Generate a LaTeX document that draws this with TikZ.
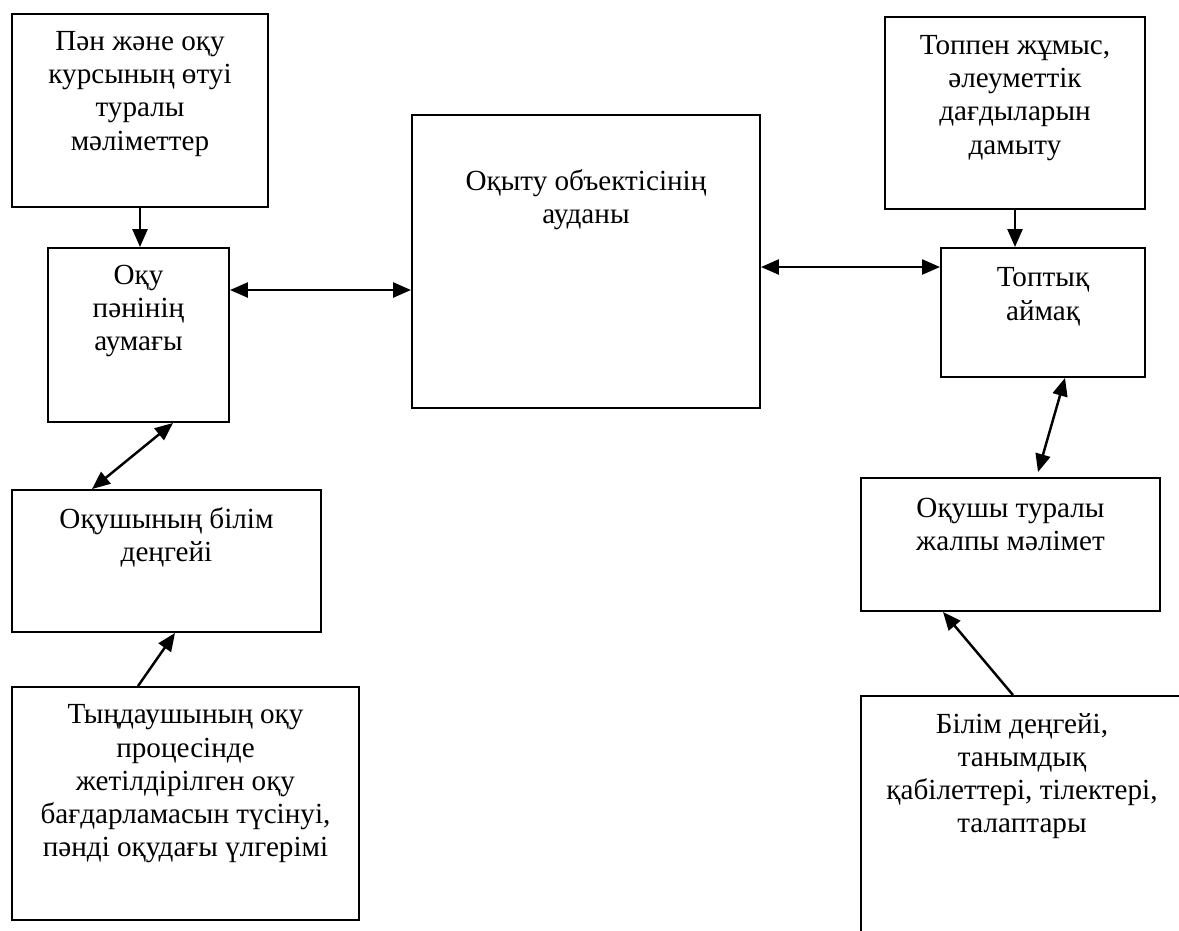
\documentclass[tikz,border=0pt]{standalone}
\usepackage{fontspec}
\setmainfont{Liberation Serif}
\usetikzlibrary{arrows.meta,fit}
\begin{document}
\begin{tikzpicture}[x=0.02cm,y=-0.02cm,
  box/.style={draw, line width=1.1pt, inner sep=0pt},
  txt/.style={anchor=north, align=center, inner sep=0pt,
    font=\fontsize{16.6}{18.9}\selectfont},
  tip/.tip={Triangle[length=0.36cm,width=0.3cm]},
  link/.style={line width=1.4pt, -tip},
  dlink/.style={line width=1.4pt, tip-tip}]
\useasboundingbox (0,0) rectangle (1179,930);
\clip (0,0) rectangle (1179,930);

% boxes
\node[box, fit={(12,14)(268,207)}] (A) {};
\node[box, fit={(48,248)(229,422)}] (B) {};
\node[box, fit={(412,115)(760,408)}] (C) {};
\node[box, fit={(885,17)(1145,209)}] (D) {};
\node[box, fit={(941,248)(1145,377)}] (E) {};
\node[box, fit={(12,490)(321,632)}] (F) {};
\node[box, fit={(12,687)(359,920)}] (G) {};
\node[box, fit={(861,478)(1160,611)}] (H) {};
\node[box, fit={(861,696)(1183,960)}] (I) {};

% labels
\node[txt] (At) at ([yshift=-0.36cm]A.north) {Пән және оқу\\курсының өтуі\\туралы\\мәліметтер};
\node[txt] (Bt) at ([yshift=-0.35cm]B.north) {Оқу\\пәнінің\\аумағы};
\node[txt] (Ct) at ([yshift=-1.11cm]C.north) {Оқыту объектісінің\\ауданы};
\node[txt] (Dt) at ([yshift=-0.38cm]D.north) {Топпен жұмыс,\\әлеуметтік\\дағдыларын\\дамыту};
\node[txt] (Et) at ([yshift=-0.41cm]E.north) {Топтық\\аймақ};
\node[txt] (Ft) at ([yshift=-0.37cm]F.north) {Оқушының білім\\деңгейі};
\node[txt] (Gt) at ([yshift=-0.37cm]G.north) {Тыңдаушының оқу\\процесінде\\жетілдірілген оқу\\бағдарламасын түсінуі,\\пәнді оқудағы үлгерімі};
\node[txt] (Ht) at ([yshift=-0.41cm]H.north) {Оқушы туралы\\жалпы мәлімет};
\node[txt] (It) at ([yshift=-0.36cm]I.north) {Білім деңгейі,\\танымдық\\қабілеттері, тілектері,\\талаптары};

% connectors
\draw[link] (A.south) -- (A.south |- B.north);
\draw[dlink] ([yshift=0.9cm]B.east) -- ([yshift=0.9cm]B.east -| C.west);
\draw[dlink] ([yshift=0.91cm]E.west -| C.east) -- ([yshift=0.91cm]E.west);
\draw[link] (D.south) -- (D.south |- E.north);
\draw[dlink] ([xshift=0.44cm]E.south) -- ([xshift=0.55cm,yshift=0.1cm]H.north);
\draw[dlink] ([xshift=0.69cm]B.south) -- ([xshift=-1.49cm]F.north);
\draw[link] ([xshift=-0.95cm]G.north) -- ([xshift=0.17cm]F.south);
\draw[link] ([xshift=-0.18cm]I.north) -- ([xshift=-1.35cm]H.south);
\end{tikzpicture}
\end{document}
